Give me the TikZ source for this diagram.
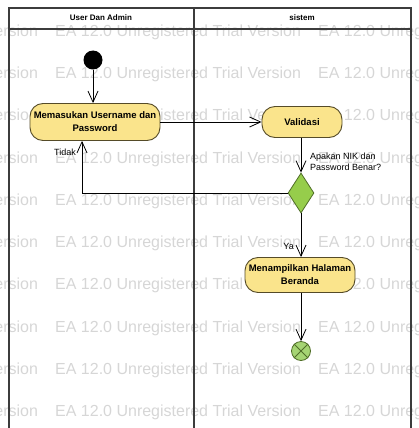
\documentclass[tikz,border=0pt]{standalone}
\usepackage{fontspec}
\setmainfont{Liberation Sans}
\usetikzlibrary{shapes.geometric,arrows.meta}

\definecolor{lanecol}{RGB}{60,60,60}
\definecolor{actfill}{RGB}{250,228,140}
\definecolor{actline}{RGB}{85,75,40}
\definecolor{decfill}{RGB}{150,205,75}
\definecolor{decline}{RGB}{80,110,40}
\definecolor{endfill}{RGB}{165,212,115}
\definecolor{wmcol}{RGB}{214,214,214}

\begin{document}
\begin{tikzpicture}[x=1pt,y=-1pt,
  lane/.style={draw=lanecol,line width=1.1pt},
  lanetitle/.style={font=\fontsize{8}{10}\selectfont\bfseries,inner sep=0},
  action/.style={draw=actline,fill=actfill,line width=0.9pt,rounded corners=13pt,
    align=center,inner sep=0,font=\fontsize{9.5}{13}\selectfont\bfseries},
  decision/.style={diamond,draw=decline,fill=decfill,line width=0.8pt,
    minimum width=26pt,minimum height=40pt,inner sep=0},
  startnode/.style={circle,fill=black,minimum size=19pt,inner sep=0},
  endnode/.style={circle,draw=decline,fill=endfill,line width=0.8pt,minimum size=19pt,inner sep=0},
  flow/.style={draw=black,line width=0.8pt,-{Straight Barb[length=11pt,width=10pt,line width=0.8pt]}},
  guard/.style={font=\fontsize{9}{11}\selectfont,inner sep=0,align=left},
  watermark/.style={font=\fontsize{16}{16}\selectfont,text=wmcol,inner sep=0,anchor=west}]
\useasboundingbox (0,0) rectangle (419,428);

% evaluation watermark rows
\begin{scope}
  \clip (0,0) rectangle (419,428);
  \foreach \r in {0,...,9}{
    \foreach \c in {0,1,2}{
      \node[watermark] (wm-\r-\c) at ({55+263*(\c-1)},{32+42.3*\r}) {EA 12.0 Unregistered Trial Version};
    }
  }
\end{scope}

% swimlanes
\draw[lane] (9,428) -- (9,8) -- (411,8) -- (411,428);
\draw[lane] (9,29) -- (411,29);
\draw[lane] (194,8) -- (194,428);
\node[lanetitle] (t1) at (101,18) {User Dan Admin};
\node[lanetitle] (t2) at (302,18) {sistem};

% activity nodes
\node[startnode] (init) at (93,60) {};
\node[action,minimum width=130pt,minimum height=37pt] (act1) at (95,122) {Memasukan Username dan\\Password};
\node[action,minimum width=80pt,minimum height=31pt] (valid) at (302,122) {Validasi};
\node[decision] (dec) at (301,193) {};
\node[action,minimum width=110pt,minimum height=35pt] (act3) at (300,275) {Menampilkan Halaman\\Beranda};
\node[endnode] (fin) at (301,351) {};
\draw[decline,line width=0.9pt] (fin.45) -- (fin.225) (fin.135) -- (fin.315);

% connectors
\coordinate (loopx) at (82,0);
\draw[flow] (init) -- (init |- act1.north);
\draw[flow] (act1.east) -- (valid.west);
\draw[flow] (valid.south -| dec) -- (dec.north);
\draw[flow] (dec.west) -| (act1.south -| loopx);
\draw[flow] (dec.south) -- (act3.north -| dec);
\draw[flow] (act3.south -| fin) -- (fin.north);

% guards
\node[guard,anchor=west] (g1) at (310,162) {Apakan NIK dan\\Password Benar?};
\node[guard,anchor=east] (g2) at (76,152) {Tidak};
\node[guard,anchor=east] (g3) at (294,246) {Ya};
\end{tikzpicture}
\end{document}
